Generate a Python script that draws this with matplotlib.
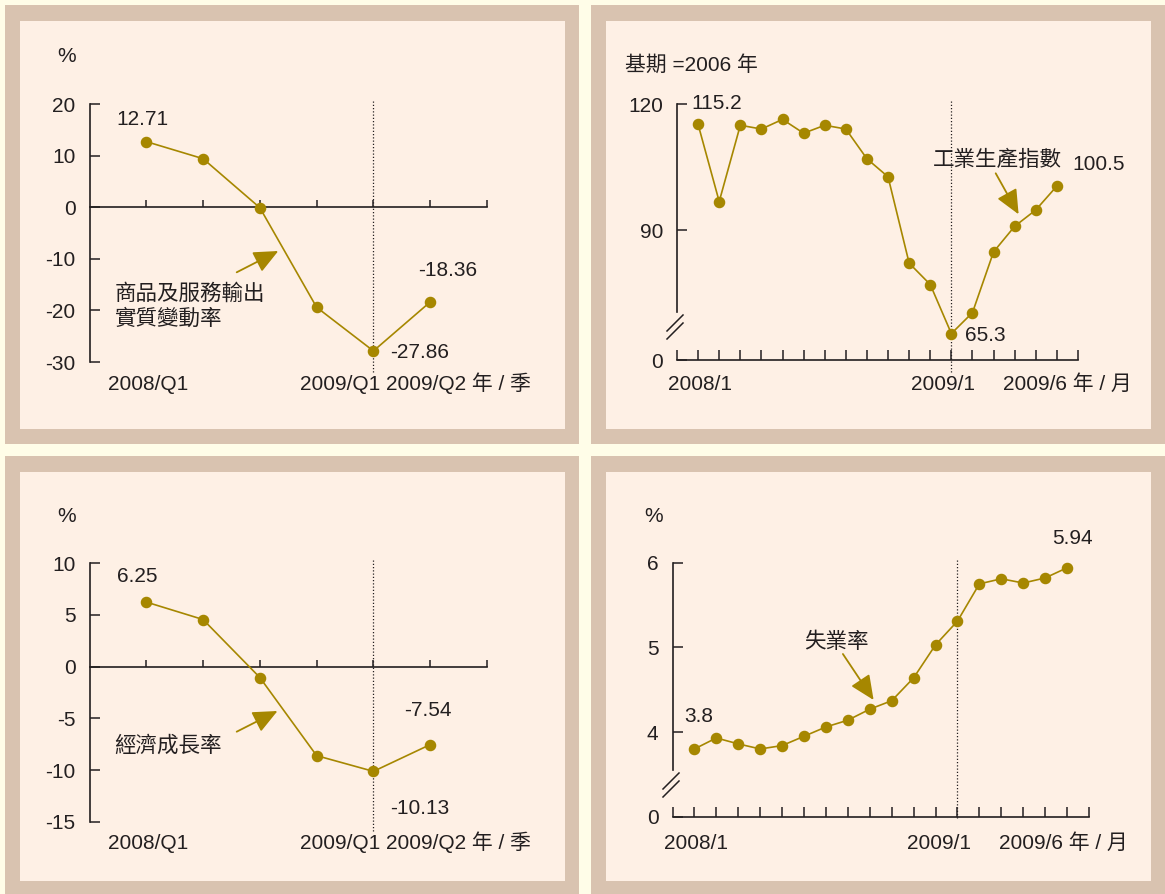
import matplotlib.pyplot as plt
from matplotlib.patches import Rectangle, FancyArrowPatch
from matplotlib.lines import Line2D

plt.rcParams['font.family'] = ['Liberation Sans', 'Noto Sans CJK TC', 'DejaVu Sans']
plt.rcParams['axes.unicode_minus'] = False

# data
quarters = ['2008/Q1', '2008/Q2', '2008/Q3', '2008/Q4', '2009/Q1', '2009/Q2']
export_growth = [12.71, 9.4, -0.1, -19.4, -27.86, -18.36]
gdp_growth = [6.25, 4.56, -1.05, -8.61, -10.13, -7.54]

months = ['2008/1', '2008/2', '2008/3', '2008/4', '2008/5', '2008/6',
          '2008/7', '2008/8', '2008/9', '2008/10', '2008/11', '2008/12',
          '2009/1', '2009/2', '2009/3', '2009/4', '2009/5', '2009/6']
ipi = [115.2, 96.8, 115.0, 114.1, 116.4, 113.1, 115.0, 114.1, 107.0,
       102.7, 82.1, 77.0, 65.3, 70.3, 84.8, 90.9, 94.8, 100.5]
unemployment = [3.80, 3.93, 3.86, 3.80, 3.84, 3.95, 4.06, 4.14, 4.27,
                4.37, 4.64, 5.03, 5.31, 5.75, 5.81, 5.76, 5.82, 5.94]

W, H = 1165, 894
GOLD = '#A68700'
INK = '#231F20'
TAN = '#D9C3B0'
CREAM = '#FEF0E5'
PALE = '#FFFDE8'
FS = 15
CJK = 15.5

fig = plt.figure(figsize=(W / 100, H / 100), dpi=100, facecolor=PALE)


def fx(x):
    return x / W


def fy(y):
    return 1 - y / H


def panel(x0, y0, x1, y1, cx0, cy0, cx1, cy1):
    fig.add_artist(Rectangle((fx(x0), fy(y1)), (x1 - x0) / W, (y1 - y0) / H,
                             transform=fig.transFigure, fc=TAN, ec='none', zorder=-3))
    fig.add_artist(Rectangle((fx(cx0), fy(cy1)), (cx1 - cx0) / W, (cy1 - cy0) / H,
                             transform=fig.transFigure, fc=CREAM, ec='none', zorder=-2))


panel(5, 5, 579, 444, 20, 20.7, 565, 429)
panel(591, 5, 1165, 444, 606, 20.7, 1151, 429)
panel(5, 456, 579, 894, 20, 471.7, 565, 880.7)
panel(591, 456, 1165, 894, 606, 471.7, 1151, 880.7)


def make_axes(l, t, r, b):
    ax = fig.add_axes([fx(l), fy(b), (r - l) / W, (b - t) / H])
    ax.set_facecolor('none')
    for s in ['top', 'right']:
        ax.spines[s].set_visible(False)
    for s in ['left', 'bottom']:
        ax.spines[s].set_color(INK)
        ax.spines[s].set_linewidth(1.2)
    ax.tick_params(axis='y', direction='in', length=7.5, width=1.1, pad=10,
                   labelsize=FS, colors=INK)
    ax.tick_params(axis='x', direction='in', width=1.1, labelbottom=False, colors=INK)
    return ax


def txt(x, y, s, ha='left', va='center', size=FS):
    fig.text(fx(x), fy(y), s, ha=ha, va=va, fontsize=size, color=INK)


def arrow(x0, y0, x1, y1):
    fig.add_artist(FancyArrowPatch((fx(x0), fy(y0)), (fx(x1), fy(y1)),
                                   transform=fig.transFigure, color=GOLD, lw=1.3,
                                   arrowstyle='-|>,head_length=1.0,head_width=0.45',
                                   mutation_scale=15, shrinkA=0, shrinkB=0))


def brk(x, y):
    for off in (0, 8):
        fig.add_artist(Line2D([fx(x - 8), fx(x + 8)], [fy(y + 8 + off), fy(y - 8 + off)],
                              transform=fig.transFigure, color=INK, lw=1.1))


def series(ax, vals):
    ax.plot(range(len(vals)), vals, color=GOLD, lw=1.2, marker='o', ms=7.3,
            clip_on=False, zorder=3)


def label(ax, i, vals, s, dx, dy):
    ax.annotate(s, (i, vals[i]), xytext=(dx, dy), textcoords='offset pixels',
                ha='center', va='center', fontsize=FS, color=INK)


# chart 1: exports
ax1 = make_axes(89.5, 104, 487, 362)
ax1.set_xlim(-1, len(quarters))
ax1.set_ylim(-30, 20)
ax1.spines['bottom'].set_position(('data', 0))
ax1.set_xticks(range(len(quarters) + 1))
ax1.tick_params(axis='x', length=5.3)
ax1.set_yticks([-30, -20, -10, 0, 10, 20])
series(ax1, export_growth)
ax1.axvline(4, ymin=-0.038, ymax=1.016, color=INK, lw=0.9, ls=(0, (1, 1.6)), clip_on=False)
label(ax1, 0, export_growth, '12.71', -4, 22)
label(ax1, 5, export_growth, '-18.36', 17, 31)
label(ax1, 4, export_growth, '-27.86', 46, -1.5)
txt(66.7, 57, '%', ha='center')
txt(148, 390, quarters[0], ha='center', va='baseline')
txt(300.4, 390, quarters[4] + ' ' + quarters[5] + ' 年 / 季', va='baseline')
txt(114.7, 294, '商品及服務輸出', size=CJK)
txt(114.7, 319, '實質變動率', size=CJK)
arrow(236.7, 272.3, 278.3, 251)

# chart 3: GDP
ax3 = make_axes(89.5, 563.3, 487, 821.7)
ax3.set_xlim(-1, len(quarters))
ax3.set_ylim(-15, 10)
ax3.spines['bottom'].set_position(('data', 0))
ax3.set_xticks(range(len(quarters) + 1))
ax3.tick_params(axis='x', length=5.3)
ax3.set_yticks([-15, -10, -5, 0, 5, 10])
series(ax3, gdp_growth)
ax3.axvline(4, ymin=-0.036, ymax=1.013, color=INK, lw=0.9, ls=(0, (1, 1.6)), clip_on=False)
label(ax3, 0, gdp_growth, '6.25', -9.5, 26)
label(ax3, 5, gdp_growth, '-7.54', -2, 34)
label(ax3, 4, gdp_growth, '-10.13', 46, -37.6)
txt(66.7, 517, '%', ha='center')
txt(148, 849, quarters[0], ha='center', va='baseline')
txt(300.4, 849, quarters[4] + ' ' + quarters[5] + ' 年 / 季', va='baseline')
txt(114.7, 746, '經濟成長率', size=CJK)
arrow(236.7, 731.7, 277.5, 711)

# chart 2: industrial production index
ax2 = make_axes(677, 104.3, 1078, 360)
ax2.set_xlim(-1, len(months))
ax2.set_ylim(59, 120)
ax2.spines['left'].set_bounds(70.5, 120)
ax2.set_xticks(range(-1, len(months) + 1))
ax2.tick_params(axis='x', length=7.2)
ax2.set_yticks([59, 90, 120])
ax2.set_yticklabels(['0', '90', '120'])
series(ax2, ipi)
ax2.axvline(12, ymin=-0.046, ymax=1.017, color=INK, lw=0.9, ls=(0, (1, 1.6)), clip_on=False)
label(ax2, 0, ipi, '115.2', 19, 21)
label(ax2, 12, ipi, '65.3', 34, -2.4)
label(ax2, 17, ipi, '100.5', 42, 21.5)
brk(675, 323)
txt(625, 65, '基期 =2006 年')
txt(700, 390, months[0], ha='center', va='baseline')
txt(942.6, 390, months[12], ha='center', va='baseline')
txt(1003, 390, months[17] + ' 年 / 月', va='baseline')
txt(932.8, 160, '工業生產指數', size=CJK)
arrow(995.7, 173.3, 1018.6, 214.3)

# chart 4: unemployment
ax4 = make_axes(672.5, 562.7, 1089, 816.7)
ax4.set_xlim(-1, len(months))
ax4.set_ylim(3, 6)
ax4.spines['left'].set_bounds(3.55, 6)
ax4.set_xticks(range(-1, len(months) + 1))
ax4.tick_params(axis='x', length=7.2)
ax4.set_yticks([3, 4, 5, 6])
ax4.set_yticklabels(['0', '4', '5', '6'])
series(ax4, unemployment)
ax4.axvline(12, ymin=-0.005, ymax=1.017, color=INK, lw=0.9, ls=(0, (1, 1.6)), clip_on=False)
label(ax4, 0, unemployment, '3.8', 4, 32)
label(ax4, 17, unemployment, '5.94', 5, 29)
brk(671, 781)
txt(653.6, 516.7, '%', ha='center')
txt(695.6, 849, months[0], ha='center', va='baseline')
txt(939.5, 849, months[12], ha='center', va='baseline')
txt(998.6, 849, months[17] + ' 年 / 月', va='baseline')
txt(804, 642, '失業率', size=CJK)
arrow(842.9, 654, 873.6, 700)

fig.savefig('out.png', dpi=100, facecolor=PALE)
